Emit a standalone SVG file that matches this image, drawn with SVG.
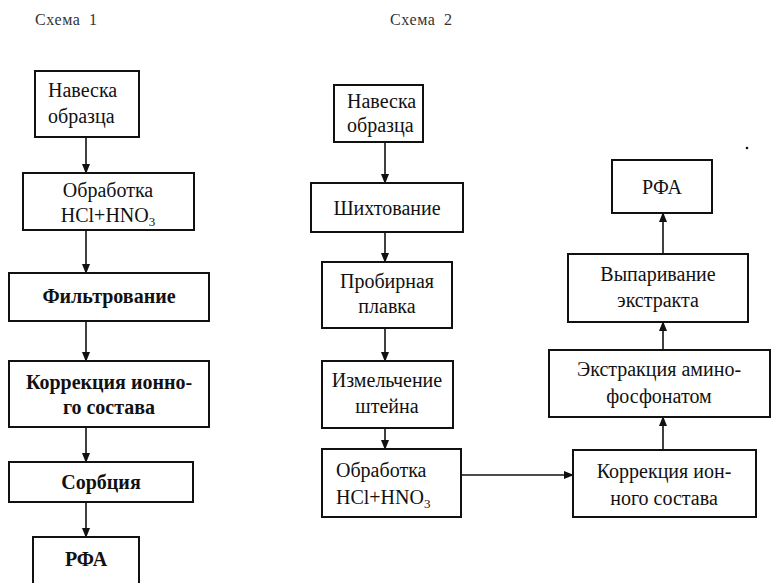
<svg xmlns="http://www.w3.org/2000/svg" width="771" height="583" viewBox="0 0 771 583" font-family="Liberation Serif, Times New Roman, serif">
<defs>
<marker id="ah" markerWidth="10" markerHeight="10" refX="9" refY="5" orient="auto" markerUnits="userSpaceOnUse">
<path d="M0,1 L10,5 L0,9 Z" fill="#111"/>
</marker>
<style>
.box{fill:#fff;stroke:#111;stroke-width:2}
.t{font-size:20px;fill:#111;text-anchor:middle}
.tl{text-anchor:start}
.b{font-weight:bold}
.h{font-size:16px;fill:#333;letter-spacing:0.6px;word-spacing:4px}
.c{stroke:#111;stroke-width:1.6;fill:none;marker-end:url(#ah)}
</style>
</defs>
<rect width="771" height="583" fill="#fff"/>
<text class="h" x="35" y="25">Схема 1</text>
<text class="h" x="390" y="25">Схема 2</text>

<g id="connectors">
<line class="c" x1="86" y1="137" x2="86" y2="173"/>
<line class="c" x1="86" y1="230" x2="86" y2="273"/>
<line class="c" x1="86" y1="321" x2="86" y2="361"/>
<line class="c" x1="86" y1="427" x2="86" y2="462"/>
<line class="c" x1="86" y1="502" x2="86" y2="537"/>
<line class="c" x1="385" y1="142" x2="385" y2="183"/>
<line class="c" x1="385" y1="232" x2="385" y2="262"/>
<line class="c" x1="385" y1="328" x2="385" y2="361"/>
<line class="c" x1="385" y1="428" x2="385" y2="449"/>
<line class="c" x1="461" y1="475" x2="573" y2="475"/>
<line class="c" x1="663" y1="450" x2="663" y2="417"/>
<line class="c" x1="663" y1="350" x2="663" y2="322"/>
<line class="c" x1="663" y1="254" x2="663" y2="213"/>
</g>

<g id="s1-naveska"><rect class="box" x="35" y="71" width="104" height="66"/>
<text class="t tl" x="48" y="97">Навеска</text><text class="t tl" x="48" y="123">образца</text></g>
<g id="s1-obrabotka"><rect class="box" x="23" y="173" width="171" height="57"/>
<text class="t" x="108" y="197">Обработка</text><text class="t" x="108" y="222">HCl+HNO<tspan font-size="13" dy="4">3</tspan></text></g>
<g id="s1-filtr"><rect class="box" x="9" y="273" width="200" height="48"/>
<text class="t b" x="109" y="303">Фильтрование</text></g>
<g id="s1-korr"><rect class="box" x="9" y="361" width="200" height="66"/>
<text class="t b" x="109" y="389">Коррекция ионно-</text><text class="t b" x="109" y="414">го состава</text></g>
<g id="s1-sorb"><rect class="box" x="9" y="462" width="184" height="40"/>
<text class="t b" x="101" y="489">Сорбция</text></g>
<g id="s1-rfa"><rect class="box" x="33" y="537" width="106" height="60"/>
<text class="t b" x="86" y="566">РФА</text></g>

<g id="s2-naveska"><rect class="box" x="334" y="85" width="89" height="57"/>
<text class="t tl" x="347" y="108">Навеска</text><text class="t tl" x="347" y="132">образца</text></g>
<g id="s2-shiht"><rect class="box" x="311" y="183" width="152" height="49"/>
<text class="t" x="387" y="215">Шихтование</text></g>
<g id="s2-probir"><rect class="box" x="322" y="262" width="130" height="66"/>
<text class="t" x="387" y="288">Пробирная</text><text class="t" x="387" y="313">плавка</text></g>
<g id="s2-izmel"><rect class="box" x="322" y="361" width="131" height="67"/>
<text class="t" x="387" y="387">Измельчение</text><text class="t" x="387" y="413">штейна</text></g>
<g id="s2-obrabotka"><rect class="box" x="322" y="449" width="139" height="68"/>
<text class="t tl" x="336" y="477">Обработка</text><text class="t tl" x="336" y="504">HCl+HNO<tspan font-size="13" dy="4">3</tspan></text></g>
<g id="s2-korr"><rect class="box" x="573" y="450" width="183" height="67"/>
<text class="t" x="664" y="478">Коррекция ион-</text><text class="t" x="664" y="505">ного состава</text></g>
<g id="s2-extr"><rect class="box" x="549" y="350" width="221" height="67"/>
<text class="t" x="659" y="376">Экстракция амино-</text><text class="t" x="659" y="403">фосфонатом</text></g>
<g id="s2-vypar"><rect class="box" x="568" y="254" width="180" height="68"/>
<text class="t" x="658" y="281">Выпаривание</text><text class="t" x="658" y="307">экстракта</text></g>
<g id="s2-rfa"><rect class="box" x="612" y="160" width="100" height="53"/>
<text class="t" x="662" y="194">РФА</text></g>
<circle cx="747" cy="148" r="1.3" fill="#111"/>
</svg>
